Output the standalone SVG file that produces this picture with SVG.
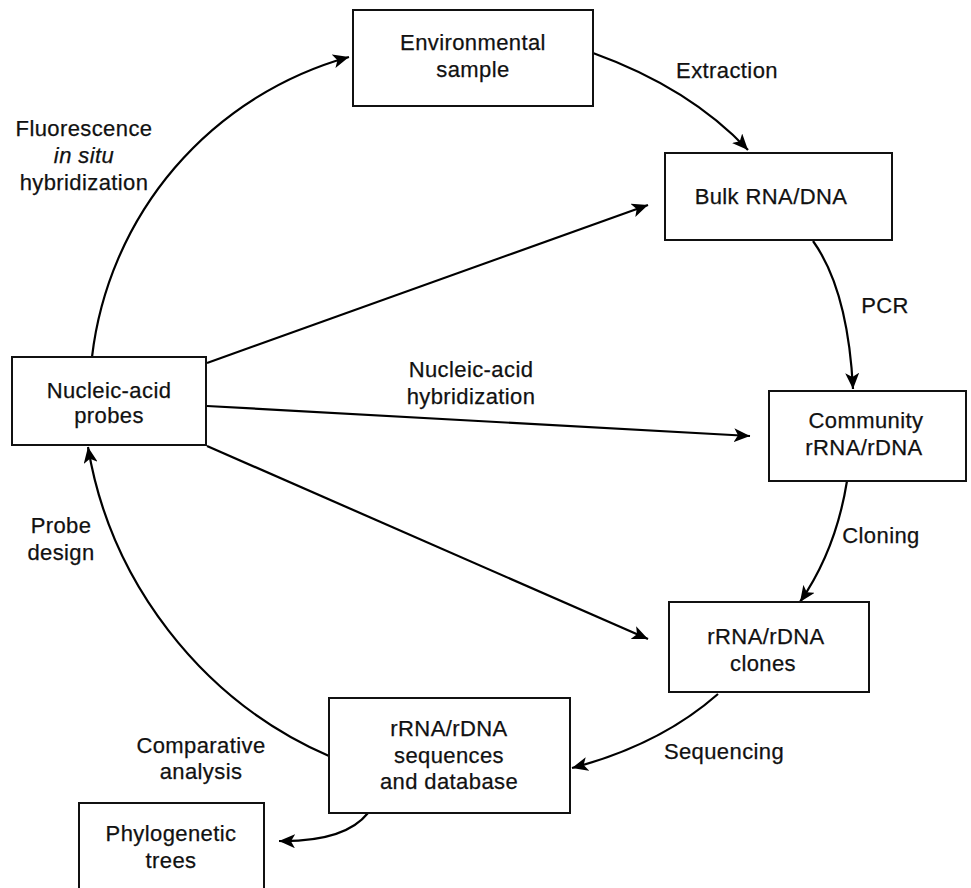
<svg xmlns="http://www.w3.org/2000/svg" width="971" height="888" viewBox="0 0 971 888">
<defs>
<marker id="ah" markerWidth="18" markerHeight="14" refX="16" refY="7" orient="auto" markerUnits="userSpaceOnUse">
<path d="M0,0 L16,7 L0,14 L4,7 Z" fill="#000"/>
</marker>
<style>
.box{fill:#fff;stroke:#111;stroke-width:2}
text{font-family:"Liberation Sans",Arial,sans-serif;font-size:22px;fill:#111;letter-spacing:0.4px;stroke:#111;stroke-width:0.25}
.c{text-anchor:middle}
.ln{fill:none;stroke:#000;stroke-width:2.2;marker-end:url(#ah)}
</style>
</defs>
<rect width="971" height="888" fill="#fff"/>
<g id="connectors">
<path class="ln" d="M92,357 A354,354 0 0 1 349,57"/>
<path class="ln" d="M593,53 Q690,88 748,150"/>
<path class="ln" d="M813,241 Q848,290 853,389"/>
<path class="ln" d="M847,481 Q836,550 800,602"/>
<path class="ln" d="M718,694 Q660,745 572,768"/>
<path class="ln" d="M329,756 C200,700 110,580 88,447"/>
<path class="ln" d="M368,813 Q345,842 279,841"/>
<path class="ln" d="M207,363 L648,205"/>
<path class="ln" d="M207,406 L750,436"/>
<path class="ln" d="M207,446 L648,639"/>
</g>
<g id="labels">
<text class="c" x="84" y="136">Fluorescence</text>
<text class="c" x="84" y="163" font-style="italic">in situ</text>
<text class="c" x="84" y="190">hybridization</text>
<text class="c" x="727" y="78">Extraction</text>
<text class="c" x="885" y="313">PCR</text>
<text class="c" x="471" y="377">Nucleic-acid</text>
<text class="c" x="471" y="404">hybridization</text>
<text class="c" x="881" y="543">Cloning</text>
<text class="c" x="724" y="759">Sequencing</text>
<text class="c" x="201" y="753">Comparative</text>
<text class="c" x="201" y="779">analysis</text>
<text class="c" x="61" y="533">Probe</text>
<text class="c" x="61" y="560">design</text>
</g>
<g id="env">
<rect class="box" x="353" y="10" width="240" height="96"/>
<text class="c" x="473" y="50">Environmental</text>
<text class="c" x="473" y="77">sample</text>
</g>
<g id="bulk">
<rect class="box" x="665" y="153" width="227" height="87"/>
<text class="c" x="771" y="204">Bulk RNA/DNA</text>
</g>
<g id="probes">
<rect class="box" x="12" y="357" width="194" height="88"/>
<text class="c" x="109" y="398">Nucleic-acid</text>
<text class="c" x="109" y="423">probes</text>
</g>
<g id="community">
<rect class="box" x="769" y="391" width="197" height="90"/>
<text class="c" x="866" y="428">Community</text>
<text class="c" x="864" y="455">rRNA/rDNA</text>
</g>
<g id="clones">
<rect class="box" x="669" y="602" width="200" height="90"/>
<text class="c" x="766" y="644">rRNA/rDNA</text>
<text class="c" x="763" y="671">clones</text>
</g>
<g id="sequences">
<rect class="box" x="329" y="698" width="241" height="115"/>
<text class="c" x="449" y="736">rRNA/rDNA</text>
<text class="c" x="449" y="763">sequences</text>
<text class="c" x="449" y="789">and database</text>
</g>
<g id="trees">
<rect class="box" x="79" y="803" width="185" height="95"/>
<text class="c" x="171" y="841">Phylogenetic</text>
<text class="c" x="171" y="868">trees</text>
</g>
</svg>
